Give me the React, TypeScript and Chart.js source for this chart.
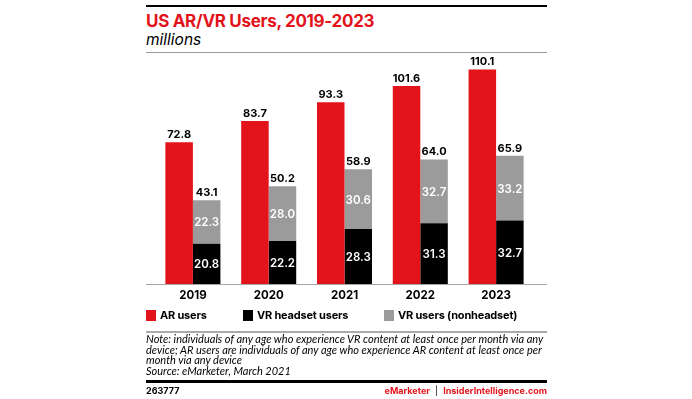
import React, { useEffect, useRef } from "react";
import { Chart, registerables } from "chart.js";
Chart.register(...registerables);

const years = ["2019", "2020", "2021", "2022", "2023"];
const arUsers = [72.8, 83.7, 93.3, 101.6, 110.1];
const vrHeadset = [20.8, 22.2, 28.3, 31.3, 32.7];
const vrNonheadset = [22.3, 28.0, 30.6, 32.7, 33.2];
const vrTotal = [43.1, 50.2, 58.9, 64.0, 65.9];

const noteLines = [
  "Note: individuals of any age who experience VR content at least once per month via any",
  "device; AR users are individuals of any age who experience AR content at least once per",
  "month via any device",
  "Source: eMarketer, March 2021",
];

const RED = "#e3131b";
const GRAY = "#9b9b9b";
const FONT = "Inter, 'Open Sans', sans-serif";

const labelPlugin = {
  id: "valueLabels",
  afterDatasetsDraw(chart: any) {
    const ctx = chart.ctx;
    ctx.save();
    ctx.textAlign = "center";
    chart.data.datasets.forEach((ds: any, di: number) => {
      const meta = chart.getDatasetMeta(di);
      meta.data.forEach((bar: any, i: number) => {
        const v = ds.data[i];
        if (di === 0) {
          ctx.fillStyle = "#000";
          ctx.font = `700 11px ${FONT}`;
          ctx.textBaseline = "bottom";
          ctx.fillText(v.toFixed(1), bar.x, bar.y - 2);
        } else {
          ctx.fillStyle = "#fff";
          ctx.font = `600 11.5px ${FONT}`;
          ctx.textBaseline = "middle";
          ctx.fillText(v.toFixed(1), bar.x, (bar.y + bar.base) / 2 + 1);
          if (di === 2) {
            ctx.fillStyle = "#000";
            ctx.font = `700 11px ${FONT}`;
            ctx.textBaseline = "bottom";
            ctx.fillText(vrTotal[i].toFixed(1), bar.x, bar.y - 2);
          }
        }
      });
    });
    ctx.restore();
  },
};

const baselinePlugin = {
  id: "baseline",
  afterDatasetsDraw(chart: any) {
    const ctx = chart.ctx;
    const y = Math.round(chart.scales.y.getPixelForValue(0)) + 0.5;
    ctx.save();
    ctx.strokeStyle = "#a6a6a6";
    ctx.lineWidth = 1;
    ctx.beginPath();
    ctx.moveTo(0, y);
    ctx.lineTo(chart.width, y);
    ctx.stroke();
    ctx.restore();
  },
};

function BarChart() {
  const ref = useRef<HTMLCanvasElement | null>(null);
  useEffect(() => {
    if (!ref.current) return;
    const chart = new Chart(ref.current, {
      type: "bar",
      data: {
        labels: years,
        datasets: [
          { label: "AR users", data: arUsers, backgroundColor: RED, stack: "ar" },
          { label: "VR headset users", data: vrHeadset, backgroundColor: "#000", stack: "vr" },
          { label: "VR users (nonheadset)", data: vrNonheadset, backgroundColor: GRAY, stack: "vr" },
        ],
      },
      options: {
        animation: false,
        responsive: false,
        maintainAspectRatio: false,
        layout: { padding: { left: 9, right: 13, top: 4, bottom: 3 } },
        datasets: { bar: { categoryPercentage: 0.726, barPercentage: 1, borderWidth: 0 } },
        plugins: { legend: { display: false }, tooltip: { enabled: false } },
        scales: {
          x: {
            stacked: true,
            grid: { display: false, drawTicks: false },
            border: { display: false },
            ticks: { color: "#000", font: { family: FONT, size: 11.5, weight: "700" }, padding: 4 },
          },
          y: { stacked: true, display: false, min: 0, max: 115 },
        },
      },
      plugins: [labelPlugin, baselinePlugin],
    });
    return () => chart.destroy();
  }, []);
  return <canvas ref={ref} width={401} height={253} style={{ position: "absolute", left: 146, top: 56, width: 401, height: 253 }} />;
}

const legendItems = [
  { label: "AR users", color: RED, left: 146 },
  { label: "VR headset users", color: "#000", left: 243 },
  { label: "VR users (nonheadset)", color: GRAY, left: 384 },
];

export default function App() {
  return (
    <div style={{ position: "fixed", left: 0, top: 0, width: 692, height: 399, background: "#fff", fontFamily: FONT, overflow: "hidden" }}>
      <div style={{ position: "absolute", left: 146, top: 5, width: 401, height: 2, background: "#000" }} />
      <div style={{ position: "absolute", left: 146, top: 11, fontSize: 17, fontWeight: 700, color: RED, lineHeight: "20px", letterSpacing: -0.3, whiteSpace: "nowrap" }}>
        US AR/VR Users, 2019-2023
      </div>
      <div style={{ position: "absolute", left: 146, top: 31, fontSize: 15.5, fontStyle: "italic", color: "#000", lineHeight: "18px" }}>
        millions
      </div>
      <div style={{ position: "absolute", left: 146, top: 52, width: 401, height: 1, background: "#999" }} />
      <BarChart />
      {legendItems.map((it) => (
        <div key={it.label} style={{ position: "absolute", left: it.left, top: 309, display: "flex", alignItems: "center", height: 12, whiteSpace: "nowrap" }}>
          <div style={{ width: 10, height: 11, background: it.color, marginRight: 4 }} />
          <span style={{ fontSize: 11, fontWeight: 700, color: "#000", lineHeight: "12px", letterSpacing: -0.2 }}>{it.label}</span>
        </div>
      ))}
      <div style={{ position: "absolute", left: 146, top: 331, width: 401, height: 2, background: "#aaa" }} />
      <div style={{ position: "absolute", left: 146, top: 334, fontFamily: "Lato, sans-serif", fontSize: 11, fontStyle: "italic", color: "#000", lineHeight: "10.7px", whiteSpace: "nowrap" }}>
        {noteLines.map((l) => (
          <div key={l}>{l}</div>
        ))}
      </div>
      <div style={{ position: "absolute", left: 146, top: 380, width: 401, height: 3, background: "#000" }} />
      <div style={{ position: "absolute", left: 146, top: 385, fontSize: 9, fontWeight: 700, color: "#000" }}>263777</div>
      <div style={{ position: "absolute", right: 692 - 547, top: 385, fontSize: 9, fontWeight: 700, color: RED, whiteSpace: "nowrap" }}>
        eMarketer <span style={{ color: "#000", fontWeight: 400, margin: "0 3px" }}>|</span> InsiderIntelligence.com
      </div>
    </div>
  );
}
